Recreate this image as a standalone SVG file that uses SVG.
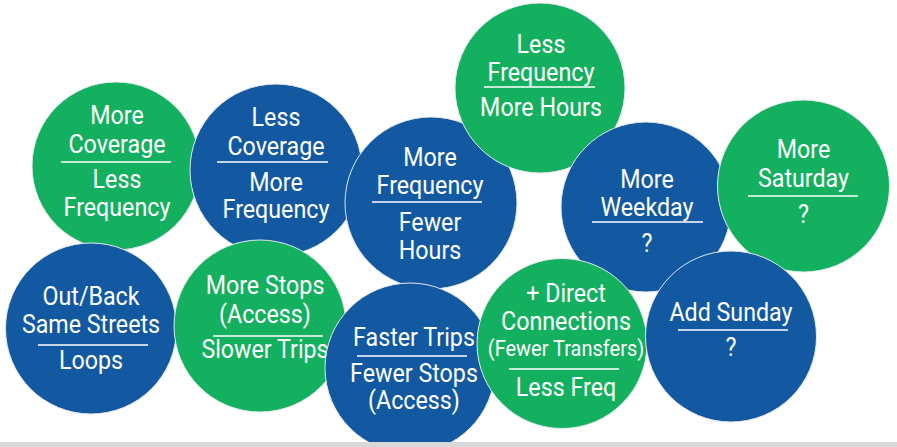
<svg xmlns="http://www.w3.org/2000/svg" width="897" height="447" viewBox="0 0 897 447">
<style>
.g{fill:#13B05F;stroke:#e4e8ec;stroke-width:1}
.b{fill:#1259A1;stroke:#e4e8ec;stroke-width:1}
text{font-family:Roboto,"Liberation Sans",sans-serif;font-size:25px;fill:#fff;text-anchor:middle}
.s{font-size:21.5px}
line{stroke:#fff;stroke-width:1.5}
</style>
<rect width="897" height="447" fill="#fff"/>
<g id="n1"><circle class="g" cx="116" cy="166" r="84"/>
<g transform="translate(117 0) scale(0.93 1)"><text y="124">More</text><text y="153">Coverage</text><text y="188">Less</text><text y="216">Frequency</text></g>
<line x1="61" y1="162" x2="171" y2="162"/></g>
<g id="n2"><circle class="b" cx="276" cy="170" r="86"/>
<g transform="translate(276 0) scale(0.93 1)"><text y="126">Less</text><text y="155">Coverage</text><text y="191">More</text><text y="218">Frequency</text></g>
<line x1="217" y1="162" x2="328" y2="162"/></g>
<g id="n3"><circle class="b" cx="431" cy="203" r="86"/>
<g transform="translate(430 0) scale(0.93 1)"><text y="166">More</text><text y="194">Frequency</text><text y="231">Fewer</text><text y="259">Hours</text></g>
<line x1="372" y1="202" x2="482" y2="202"/></g>
<g id="n4"><circle class="g" cx="540" cy="88" r="85"/>
<g transform="translate(541 0) scale(0.93 1)"><text y="53">Less</text><text y="81">Frequency</text><text y="116">More Hours</text></g>
<line x1="484" y1="87" x2="595" y2="87"/></g>
<g id="n5"><circle class="b" cx="646" cy="207" r="85"/>
<g transform="translate(647 0) scale(0.93 1)"><text y="188">More</text><text y="216">Weekday</text><text y="252">?</text></g>
<line x1="592" y1="222" x2="703" y2="222"/></g>
<g id="n6"><circle class="g" cx="803.5" cy="186" r="86"/>
<g transform="translate(803.5 0) scale(0.93 1)"><text y="158">More</text><text y="187">Saturday</text><text y="223">?</text></g>
<line x1="748" y1="196" x2="858" y2="196"/></g>
<g id="n11"><circle class="b" cx="91" cy="328.5" r="85.5"/>
<g transform="translate(91 0) scale(0.93 1)"><text y="305">Out/Back</text><text y="333">Same Streets</text><text y="369">Loops</text></g>
<line x1="38" y1="345" x2="148" y2="345"/></g>
<g id="n10"><circle class="g" cx="260" cy="326" r="86"/>
<g transform="translate(265 0) scale(0.93 1)"><text y="294">More Stops</text><text y="323">(Access)</text><text y="358">Slower Trips</text></g>
<line x1="213" y1="336" x2="323" y2="336"/></g>
<g id="n9"><circle class="b" cx="410" cy="368" r="85"/>
<g transform="translate(414 0) scale(0.93 1)"><text y="346">Faster Trips</text><text y="382">Fewer Stops</text><text y="409">(Access)</text></g>
<line x1="357" y1="356" x2="467" y2="356"/></g>
<g id="n8"><circle class="g" cx="562" cy="343.5" r="85"/>
<g transform="translate(566 0) scale(0.93 1)"><text y="302">+ Direct</text><text y="330">Connections</text><text class="s" y="356">(Fewer Transfers)</text><text y="396">Less Freq</text></g>
<line x1="509" y1="369" x2="619" y2="369"/></g>
<g id="n7"><circle class="b" cx="731" cy="336.5" r="85.5"/>
<g transform="translate(731 0) scale(0.93 1)"><text y="321">Add Sunday</text><text y="356">?</text></g>
<line x1="678" y1="330" x2="788" y2="330"/></g>
<g id="connectors"></g>
<rect x="0" y="442" width="897" height="5" fill="#d9d9d9"/>
</svg>
